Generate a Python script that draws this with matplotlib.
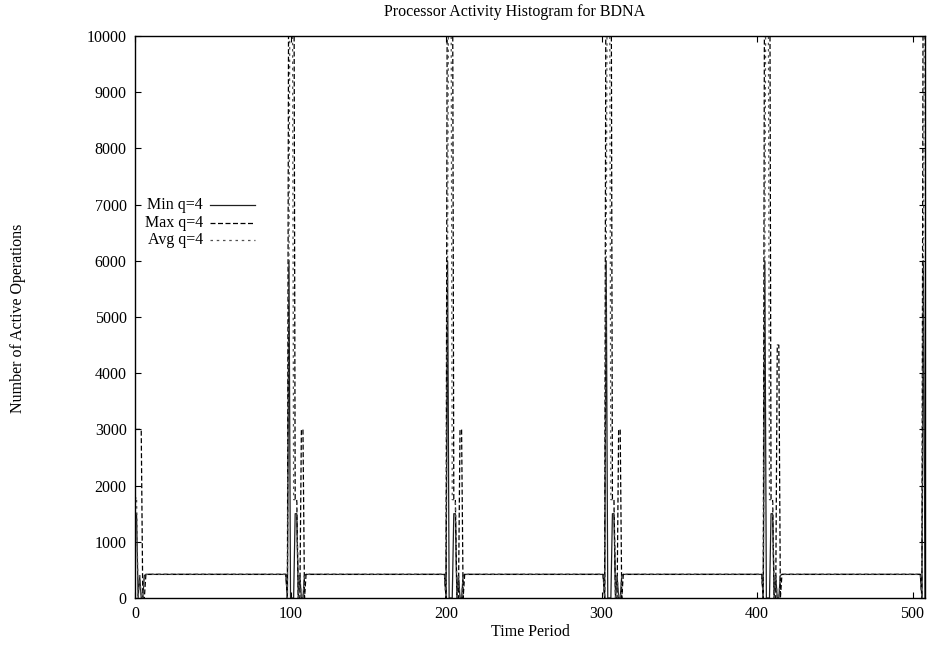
import matplotlib
matplotlib.use("Agg")
import matplotlib.pyplot as plt

plt.rcParams['font.family'] = ['Liberation Serif', 'DejaVu Serif']

# time points (only where the curves change; baseline runs straight between clusters)
t = [0, 1, 2, 3, 4, 5, 6, 7,
     97, 98, 99, 100, 101, 102, 103, 104, 105, 106, 107, 108, 109, 110,
     199, 200, 201, 202, 203, 204, 205, 206, 207, 208, 209, 210, 211, 212,
     301, 302, 303, 304, 305, 306, 307, 308, 309, 310, 311, 312, 313, 314,
     403, 404, 405, 406, 407, 408, 409, 410, 411, 412, 413, 414, 415, 416,
     505, 506, 507, 508, 509, 510, 511, 512]

min_q4 = [1500, 1500, 0, 400, 0, 0, 400, 420,
          420, 0, 6000, 0, 0, 0, 1500, 1500, 0, 400, 0, 0, 400, 420,
          420, 0, 6000, 0, 0, 0, 1500, 1500, 0, 400, 0, 0, 400, 420,
          420, 0, 6000, 0, 0, 0, 1500, 1500, 0, 400, 0, 0, 400, 420,
          420, 0, 6000, 0, 0, 0, 1500, 1500, 0, 400, 0, 0, 400, 420,
          420, 0, 6000, 0, 0, 0, 1500, 1500]

max_q4 = [3000, 3000, 3000, 3000, 3000, 0, 0, 420,
          420, 0, 14000, 14000, 14000, 14000, 1750, 1750, 0, 0, 3000, 3000, 0, 420,
          420, 0, 14000, 14000, 14000, 14000, 1750, 1750, 0, 0, 3000, 3000, 0, 420,
          420, 0, 14000, 14000, 14000, 14000, 1750, 1750, 0, 0, 3000, 3000, 0, 420,
          420, 0, 14000, 14000, 14000, 14000, 1750, 1750, 0, 0, 4500, 4500, 0, 420,
          420, 0, 14000, 14000, 14000, 14000, 1750, 1750]

avg_q4 = [1750, 1800, 0, 400, 0, 0, 400, 420,
          420, 0, 6000, 14000, 14000, 1750, 1750, 1750, 0, 400, 0, 0, 400, 420,
          420, 0, 6000, 14000, 14000, 1750, 1750, 1750, 0, 400, 0, 0, 400, 420,
          420, 0, 6000, 14000, 14000, 1750, 1750, 1750, 0, 400, 0, 0, 400, 420,
          420, 0, 6000, 14000, 14000, 1750, 1750, 1750, 0, 400, 0, 0, 400, 420,
          420, 0, 6000, 14000, 14000, 1750, 1750, 1750]

series = [
    ("Min q=4", min_q4, dict(color='#202020', lw=0.9, ls='-')),
    ("Max q=4", max_q4, dict(color='black', lw=0.9, ls=(0, (4, 2)))),
    ("Avg q=4", avg_q4, dict(color='#505050', lw=0.9, ls=(0, (2, 3)))),
]

fig = plt.figure(figsize=(9.3, 6.46), dpi=100)
ax = fig.add_axes([135 / 930, 1 - 598 / 646, 790 / 930, 562 / 646])

for name, vals, st in series:
    ax.plot(t, vals, **st)

ax.set_xlim(0, 508)
ax.set_ylim(0, 10000)
ax.set_xticks([0, 100, 200, 300, 400, 500])
ax.set_yticks(range(0, 10001, 1000))
ax.tick_params(direction='in', length=4, width=0.8, top=True, right=True,
               labelsize=11.5, pad=6)
for sp in ax.spines.values():
    sp.set_linewidth(1.0)

# legend drawn gnuplot style: text right aligned, sample line after it
for i, (name, vals, st) in enumerate(series):
    yy = 0.699 - i * 0.031
    ax.text(0.086, yy, name, transform=ax.transAxes, ha='right', va='center',
            fontsize=11.5)
    ax.plot([0.095, 0.152], [yy, yy], transform=ax.transAxes, **st)

fig.text(515 / 930, 1 - 12 / 646, "Processor Activity Histogram for BDNA",
         ha='center', va='center', fontsize=11.5)
fig.text(530 / 930, 1 - 632 / 646, "Time Period", ha='center', va='center',
         fontsize=11.5)
fig.text(18 / 930, 1 - 318 / 646, "Number of Active Operations", ha='center',
         va='center', rotation=90, fontsize=11.5)

fig.savefig("out.png", dpi=100)
